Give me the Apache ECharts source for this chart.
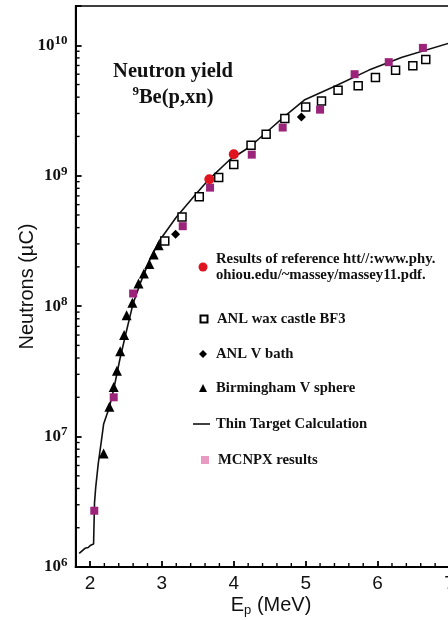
<!DOCTYPE html>
<html><head><meta charset="utf-8">
<script src="https://cdn.jsdelivr.net/npm/echarts@6/dist/echarts.min.js"></script>
<style>html,body{margin:0;padding:0;background:#fff}#c{width:448px;height:620px}</style>
</head><body><div id="c"></div>
<script>
// ---- data (E in MeV, neutrons per µC) ----
const thinTarget = [
  [1.85, 1.27e6], [1.93, 1.39e6], [1.975, 1.41e6], [2.01, 1.47e6], [2.05, 1.50e6],
  [2.06, 1.53e6], [2.063, 3.1e6], [2.08, 4.1e6], [2.115, 6.2e6], [2.16, 9.4e6],
  [2.19, 1.25e7], [2.23, 1.45e7], [2.27, 1.68e7], [2.33, 2.3e7], [2.415, 3.9e7],
  [2.5, 6.2e7], [2.6, 1.05e8], [2.7, 1.5e8], [2.83, 2.25e8], [2.97, 3.2e8],
  [3.2, 4.8e8], [3.48, 7.3e8], [3.64, 9.2e8], [3.94, 1.32e9], [4.22, 1.66e9],
  [4.49, 2.24e9], [4.71, 2.86e9], [4.98, 3.8e9], [5.42, 4.9e9], [5.88, 6.45e9],
  [6.34, 8.1e9], [7.0, 1.04e10]
];
const refResults = [[3.66, 9.4e8], [4.0, 1.46e9]];
const anlWax = [
  [3.04, 3.16e8], [3.28, 4.83e8], [3.52, 6.9e8], [3.79, 9.7e8], [4.0, 1.22e9],
  [4.24, 1.71e9], [4.45, 2.08e9], [4.71, 2.74e9], [5.0, 3.37e9], [5.22, 3.74e9],
  [5.45, 4.52e9], [5.73, 4.9e9], [5.97, 5.65e9], [6.25, 6.43e9], [6.49, 6.98e9],
  [6.67, 7.77e9]
];
const anlVBath = [[3.19, 3.55e8], [4.94, 2.82e9]];
const birmingham = [
  [2.19, 7.4e6], [2.27, 1.69e7], [2.33, 2.4e7], [2.375, 3.2e7], [2.42, 4.5e7],
  [2.475, 6.0e7], [2.51, 8.5e7], [2.59, 1.06e8], [2.675, 1.49e8], [2.75, 1.78e8],
  [2.825, 2.1e8], [2.886, 2.49e8], [2.955, 2.93e8]
];
const mcnpx = [
  [2.06, 2.7e6], [2.33, 2.0e7], [2.6, 1.25e8], [3.29, 4.1e8], [3.67, 8.1e8],
  [4.25, 1.45e9], [4.68, 2.34e9], [5.2, 3.21e9], [5.68, 6.0e9], [6.155, 7.42e9],
  [6.63, 9.55e9]
];
// ---- axis ticks ----
const xMin = 1.8, xMax = 7;
const xTickLabels = [2, 3, 4, 5, 6, 7];
const xMinorTicks = [];
for (let i = 10; i <= 35; i++) { if (i % 5 !== 0) xMinorTicks.push(i / 5); }
const yMin = 1e6, yMax = 2e10;
const yDecades = [6, 7, 8, 9, 10];
const yMinorTicks = [];
yDecades.forEach(n => { for (let k = 2; k <= 9; k++) { const v = k * Math.pow(10, n); if (v < yMax) yMinorTicks.push(v); } });

const names = {
  ref: 'Results of reference htt//:www.phy.\nohiou.edu/~massey/massey11.pdf.',
  wax: 'ANL wax castle BF3',
  bath: 'ANL V bath',
  birm: 'Birmingham V sphere',
  thin: 'Thin Target Calculation',
  mcnpx: 'MCNPX results'
};

const SERIF = 'Liberation Serif', SANS = 'Liberation Sans';
const TXT = '#111';

function legend(name, left, top, w, h, icon, padLeft, extra) {
  const item = Object.assign({ name: name, icon: icon }, extra || {});
  return {
    data: [item], left: left, top: top, padding: 0, itemWidth: w, itemHeight: h,
    selectedMode: false, orient: 'horizontal',
    textStyle: { fontFamily: SERIF, fontWeight: 'bold', fontSize: 14.7, color: TXT,
      lineHeight: 16, padding: [0, 0, 0, padLeft] }
  };
}

// minor ticks drawn through the chart's own scales
function tickSeries(values, vertical, len) {
  return {
    type: 'custom', silent: true, clip: false, z: 6, legendHoverLink: false,
    data: values.map(v => vertical ? [v, yMin] : [xMin, v]),
    renderItem: function (params, api) {
      const p = api.coord([api.value(0), api.value(1)]);
      return {
        type: 'line',
        shape: vertical ? { x1: p[0], y1: p[1], x2: p[0], y2: p[1] - len }
                        : { x1: p[0], y1: p[1], x2: p[0] + len, y2: p[1] },
        style: { stroke: '#000', lineWidth: 1.4 }
      };
    }
  };
}

const chart = echarts.init(document.getElementById('c'));
const refLegend = legend(names.ref, 198.5, 267 - 24, 9, 9, 'circle', 3.5);
refLegend.textStyle.padding = [16, 0, 0, 3.5];
chart.setOption({
  backgroundColor: '#fff',
  animation: false,
  title: {
    text: '{t|Neutron yield}\n{s|9}{t|Be(p,xn)}',
    left: 173, top: 59, padding: 0, textAlign: 'center',
    textStyle: {
      rich: {
        t: { fontFamily: SERIF, fontWeight: 'bold', fontSize: 20.5, color: TXT, lineHeight: 26 },
        s: { fontFamily: SERIF, fontWeight: 'bold', fontSize: 13, color: TXT, lineHeight: 16, verticalAlign: 'top' }
      }
    }
  },
  legend: [
    refLegend,
    legend(names.wax, 199.5, 319 - 8, 7, 7, 'rect', 4.5),
    legend(names.bath, 199, 354 - 8, 8, 8, 'diamond', 4),
    legend(names.birm, 199, 388 - 8, 8, 8, 'triangle', 4),
    legend(names.thin, 193, 424 - 8, 17, 1.6, 'rect', 1, { itemStyle: { color: '#111' } }),
    legend(names.mcnpx, 201, 460 - 8, 8, 8, 'rect', 4, { itemStyle: { color: '#e99ac0' } })
  ],
  grid: {
    left: 75.6, top: 6, width: 373.9, bottom: 53, outerBoundsMode: 'none', containLabel: false,
    show: true, borderColor: '#000', borderWidth: 1.5, backgroundColor: 'transparent'
  },
  xAxis: {
    type: 'value', min: xMin, max: xMax, position: 'bottom',
    name: '{a|E}{p|p}{a| (MeV)}', nameLocation: 'middle', nameGap: 26, nameMoveOverlap: false,
    nameTextStyle: { padding: [0, 0, 0, 17], rich: {
      a: { fontFamily: SANS, fontSize: 20, color: TXT, lineHeight: 24 },
      p: { fontFamily: SANS, fontSize: 13, color: TXT, lineHeight: 10, verticalAlign: 'bottom' }
    } },
    axisLine: { onZero: false, lineStyle: { color: '#000', width: 2 } },
    axisTick: { show: true, inside: true, length: 6, customValues: xTickLabels, lineStyle: { color: '#000', width: 1.8 } },
    axisLabel: { customValues: xTickLabels, margin: 7, fontFamily: SANS, fontSize: 19, color: TXT },
    splitLine: { show: false }
  },
  yAxis: {
    type: 'log', logBase: 10, min: yMin, max: yMax, position: 'left',
    name: 'Neutrons (µC)', nameLocation: 'middle', nameGap: 38, nameMoveOverlap: false,
    nameTextStyle: { fontFamily: SANS, fontSize: 20, color: TXT },
    axisLine: { onZero: false, lineStyle: { color: '#000', width: 2 } },
    axisTick: { show: true, inside: true, length: 6, lineStyle: { color: '#000', width: 1.8 } },
    axisLabel: {
      margin: 8,
      formatter: function (v) {
        const e = Math.log10(v), r = Math.round(e);
        if (Math.abs(e - r) > 1e-6) return '';
        return '{b|10}{s|' + r + '}';
      },
      rich: {
        b: { fontFamily: SERIF, fontWeight: 'bold', fontSize: 17, color: TXT, lineHeight: 22 },
        s: { fontFamily: SERIF, fontWeight: 'bold', fontSize: 13, color: TXT, lineHeight: 12, verticalAlign: 'top' }
      }
    },
    splitLine: { show: false }
  },
  series: [
    { name: names.thin, type: 'line', data: thinTarget, symbol: 'none', z: 2,
      lineStyle: { color: '#111', width: 1.6 }, itemStyle: { color: '#111' } },
    { name: names.wax, type: 'scatter', data: anlWax, symbol: 'rect', symbolSize: 8, z: 3,
      itemStyle: { color: '#fff', borderColor: '#000', borderWidth: 1.5, opacity: 1 } },
    { name: names.bath, type: 'scatter', data: anlVBath, symbol: 'diamond', symbolSize: 9, z: 3,
      itemStyle: { color: '#000', opacity: 1 } },
    { name: names.birm, type: 'scatter', data: birmingham, symbol: 'triangle', symbolSize: 10, z: 3,
      itemStyle: { color: '#000', opacity: 1 } },
    { name: names.mcnpx, type: 'scatter', data: mcnpx, symbol: 'rect', symbolSize: 8, z: 4,
      itemStyle: { color: '#9b2379', opacity: 1 } },
    { name: names.ref, type: 'scatter', data: refResults, symbol: 'circle', symbolSize: 10, z: 5,
      itemStyle: { color: '#e0141e', opacity: 1 } },
    tickSeries(xMinorTicks, true, 4),
    tickSeries(yMinorTicks, false, 4)
  ]
});
</script></body></html>
